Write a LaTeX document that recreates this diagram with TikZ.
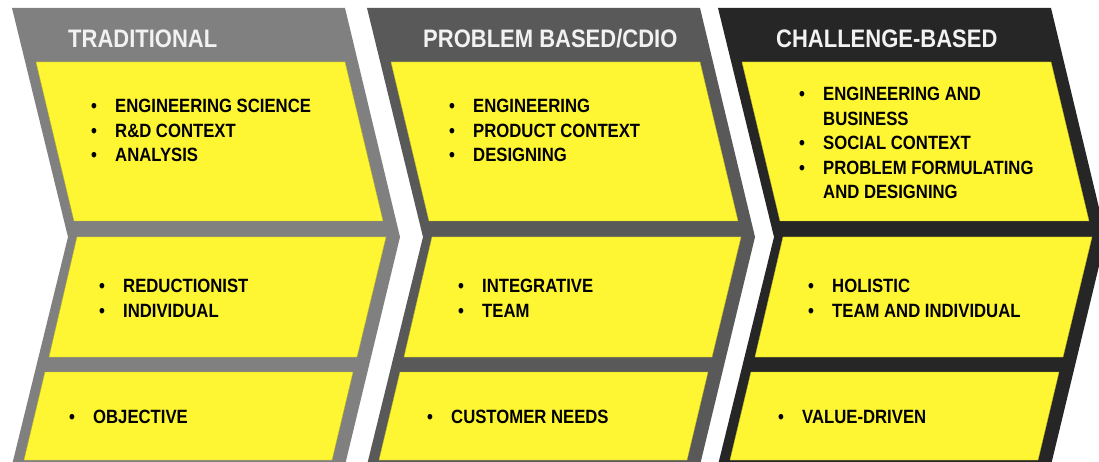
\documentclass[tikz,border=0pt]{standalone}
\usepackage{fontspec}
\setmainfont{Liberation Sans}
\definecolor{cyel}{HTML}{FFF633}
\definecolor{cgA}{HTML}{808080}
\definecolor{cgB}{HTML}{595959}
\definecolor{cgC}{HTML}{262626}
\newcommand{\bul}{\makebox[24pt][l]{\textbullet}}
\newcommand{\ind}{\hspace*{24pt}}
\tikzset{
  panel/.style={fill=cyel, draw=cyel!75!black, line width=0.4pt},
  ttl/.style={anchor=west, inner sep=0pt, text=white!95!black, font=\fontsize{22}{26}\selectfont\bfseries, yscale=1.15, transform shape},
  items/.style={anchor=west, inner sep=0pt, align=left, font=\fontsize{16.7}{21.3}\selectfont\bfseries, yscale=1.15, transform shape},
}
\begin{document}
\begin{tikzpicture}[x=1pt,y=-1pt]
\useasboundingbox (0,0) rectangle (1099,462);
\clip (0,0) rectangle (1099,462);
\fill[white] (0,0) rectangle (1099,462);
% chevrons and panels
\foreach \dx/\col in {0/cgA, 355/cgB, 706/cgC}{
  \begin{scope}[xshift=\dx pt]
    \fill[\col] (12,8) -- (345,8) -- (400,237) -- (345,465) -- (12,465) -- (68,237) -- cycle;
    \path[panel] (36,62) -- (345,62) -- (383,221) -- (74,221) -- cycle;
    \path[panel] (77,237) -- (386,237) -- (357,357) -- (49,357) -- cycle;
    \path[panel] (45,372) -- (353,372) -- (332,460) -- (24,460) -- cycle;
  \end{scope}
}
% titles
\node[ttl] (t1) at (68,39) {TRADITIONAL};
\node[ttl] (t2) at (423,39) {PROBLEM BASED/CDIO};
\node[ttl] (t3) at (776,39) {CHALLENGE-BASED};
% column 1
\node[items] (a1) at (91,130.5) {\bul ENGINEERING SCIENCE\\ \bul R\&D CONTEXT\\ \bul ANALYSIS};
\node[items] (a2) at (99,298.5) {\bul REDUCTIONIST\\ \bul INDIVIDUAL};
\node[items] (a3) at (69,417) {\bul OBJECTIVE};
% column 2
\node[items] (b1) at (449,130.5) {\bul ENGINEERING\\ \bul PRODUCT CONTEXT\\ \bul DESIGNING};
\node[items] (b2) at (458,298.5) {\bul INTEGRATIVE\\ \bul TEAM};
\node[items] (b3) at (427,417) {\bul CUSTOMER NEEDS};
% column 3
\node[items] (c1) at (799,143) {\bul ENGINEERING AND\\ \ind BUSINESS\\ \bul SOCIAL CONTEXT\\ \bul PROBLEM FORMULATING\\ \ind AND DESIGNING};
\node[items] (c2) at (808,298.5) {\bul HOLISTIC\\ \bul TEAM AND INDIVIDUAL};
\node[items] (c3) at (778,417) {\bul VALUE-DRIVEN};
\end{tikzpicture}
\end{document}
